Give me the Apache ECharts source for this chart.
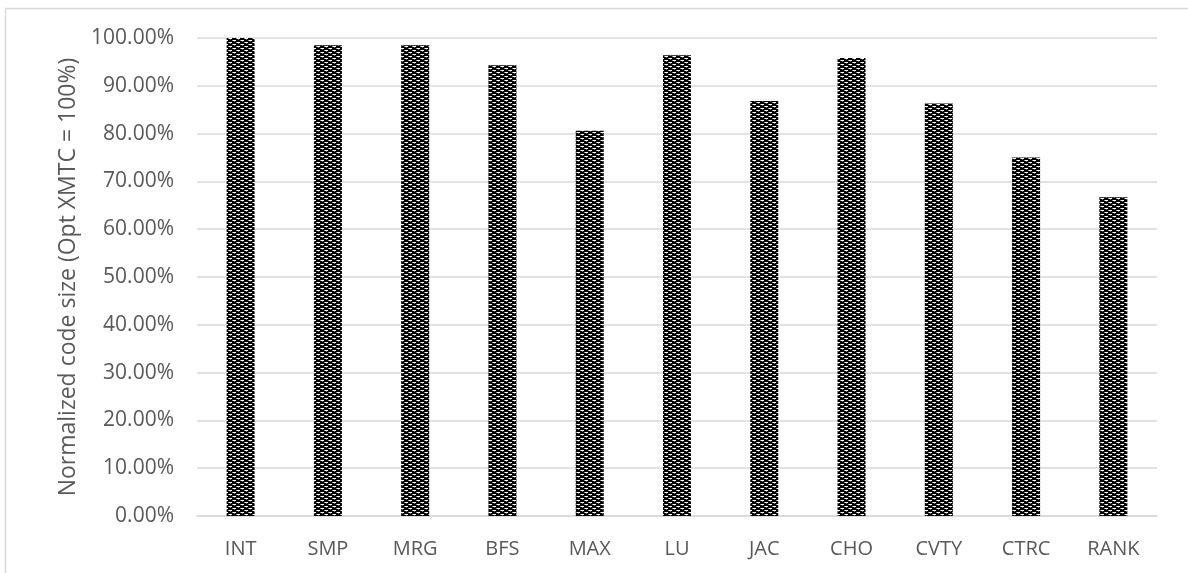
<!DOCTYPE html>
<html>
<head>
<meta charset="utf-8">
<script src="https://cdn.jsdelivr.net/npm/echarts@6/dist/echarts.min.js"></script>
<style>
  html, body { margin: 0; padding: 0; background: #ffffff; }
  #chart { width: 1188px; height: 573px; }
</style>
</head>
<body>
<div id="chart"></div>
<script>
// Benchmarks on the x axis
const categories = ['INT', 'SMP', 'MRG', 'BFS', 'MAX', 'LU', 'JAC', 'CHO', 'CVTY', 'CTRC', 'RANK'];
// Code size relative to the optimized XMTC build (percent)
const codeSize = [100.0, 98.5, 98.5, 94.3, 80.6, 96.4, 86.8, 95.8, 86.3, 75.0, 66.7];
// Value axis range and step
const yMin = 0;
const yMax = 100;
const yStep = 10;
const yAxisTitle = 'Normalized code size (Opt XMTC = 100%)';

// Dark fill with staggered white dashes (small checkered hatch)
function makeHatch() {
  const c = document.createElement('canvas');
  c.width = 8;
  c.height = 4;
  const ctx = c.getContext('2d');
  ctx.fillStyle = '#000000';
  ctx.fillRect(0, 0, 8, 4);
  ctx.fillStyle = '#ffffff';
  ctx.fillRect(1, 0, 3, 1);
  ctx.fillRect(5, 2, 3, 1);
  ctx.fillStyle = '#8c8c8c';
  ctx.fillRect(0, 0, 1, 1);
  ctx.fillRect(4, 2, 1, 1);
  ctx.fillStyle = '#5a5a5a';
  ctx.fillRect(2, 1, 1, 1);
  ctx.fillRect(6, 3, 1, 1);
  return c;
}

const chart = echarts.init(document.getElementById('chart'), null, { renderer: 'canvas' });
const textColor = '#595959';
const fontFamily = '"Open Sans", "Liberation Sans", sans-serif';

chart.setOption({
  animation: false,
  backgroundColor: '#ffffff',
  graphic: [{
    type: 'rect',
    shape: { x: 5.5, y: 8.5, width: 1400, height: 800 },
    style: { fill: 'none', stroke: '#d9d9d9', lineWidth: 1.5 },
    silent: true,
    z: -1
  }],
  grid: { left: 197, right: 31, top: 38, bottom: 57 },
  xAxis: {
    type: 'category',
    data: categories,
    axisLine: { show: true, lineStyle: { color: '#d9d9d9', width: 1.5 } },
    axisTick: { show: false },
    axisLabel: { color: textColor, fontSize: 20, fontFamily: fontFamily, margin: 23 }
  },
  yAxis: {
    type: 'value',
    min: yMin,
    max: yMax,
    interval: yStep,
    name: yAxisTitle,
    nameLocation: 'middle',
    nameGap: 117,
    nameTextStyle: { color: textColor, fontSize: 23, fontFamily: fontFamily },
    axisLine: { show: false },
    axisTick: { show: false },
    splitLine: { lineStyle: { color: '#d9d9d9', width: 1.5 } },
    axisLabel: {
      color: textColor,
      fontSize: 21,
      fontFamily: fontFamily,
      margin: 23,
      formatter: v => v.toFixed(2) + '%'
    }
  },
  series: [{
    type: 'bar',
    data: codeSize,
    barWidth: 28,
    itemStyle: { color: { image: makeHatch(), repeat: 'repeat' } }
  }]
});
</script>
</body>
</html>
